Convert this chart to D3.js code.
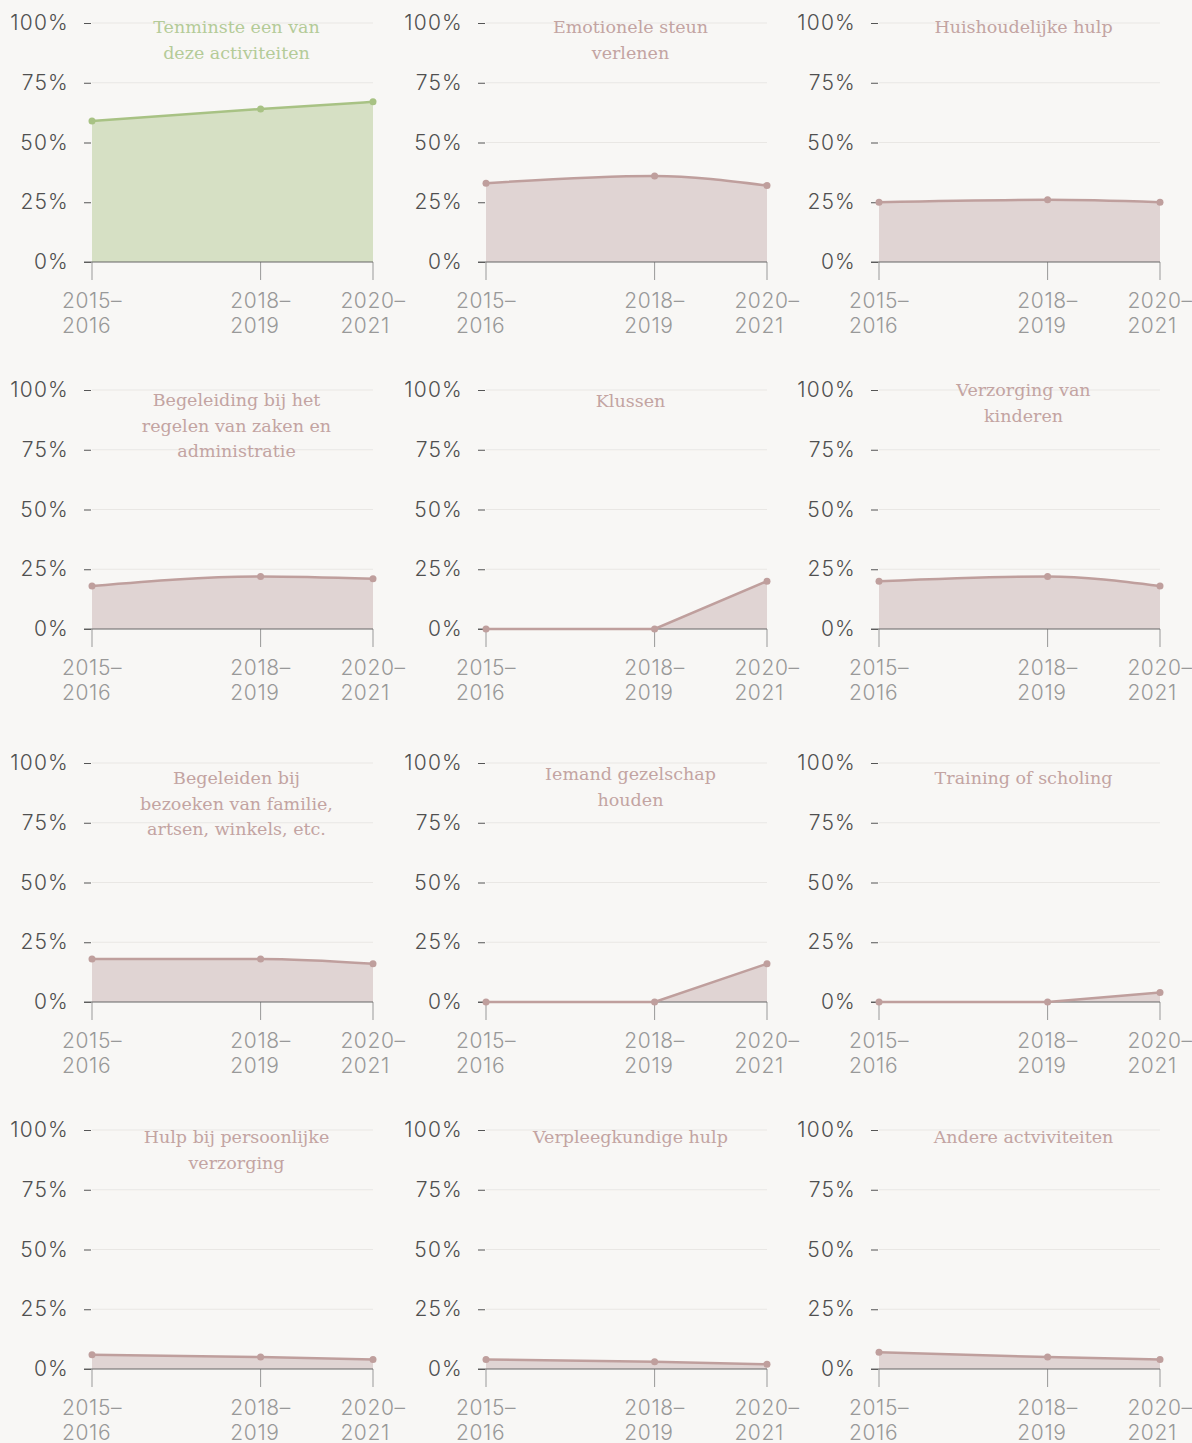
<!DOCTYPE html>
<html>
<head>
<meta charset="utf-8">
<script src="https://cdn.jsdelivr.net/npm/d3@7"></script>
<style>
  body { margin: 0; background: #f8f7f5; }
  svg { display: block; }
</style>
</head>
<body>
<div id="chart"></div>
<script>
// Periods on the x axis
const periodStart = [2015, 2018, 2020];
const periodLabels = [["2015–", "2016"], ["2018–", "2019"], ["2020–", "2021"]];
const yTicks = [0, 25, 50, 75, 100];

// Share of helpers per activity (%), one array per small multiple
const titles = [
  ["Tenminste een van", "deze activiteiten"],
  ["Emotionele steun", "verlenen"],
  ["Huishoudelijke hulp"],
  ["Begeleiding bij het", "regelen van zaken en", "administratie"],
  ["Klussen"],
  ["Verzorging van", "kinderen"],
  ["Begeleiden bij", "bezoeken van familie,", "artsen, winkels, etc."],
  ["Iemand gezelschap", "houden"],
  ["Training of scholing"],
  ["Hulp bij persoonlijke", "verzorging"],
  ["Verpleegkundige hulp"],
  ["Andere actviviteiten"]
];
const tenminste = [59, 64, 67];
const emotioneel = [33, 36, 32];
const huishoudelijk = [25, 26, 25];
const administratie = [18, 22, 21];
const klussen = [0, 0, 20];
const kinderen = [20, 22, 18];
const bezoeken = [18, 18, 16];
const gezelschap = [0, 0, 16];
const scholing = [0, 0, 4];
const persoonlijk = [6, 5, 4];
const verpleeg = [4, 3, 2];
const andere = [7, 5, 4];
const series = [tenminste, emotioneel, huishoudelijk, administratie, klussen, kinderen,
                bezoeken, gezelschap, scholing, persoonlijk, verpleeg, andere];

// layout
const W = 1192, H = 1443;
const colX = [92, 486, 879];
const plotW = 281;
const rowY = [23, 390, 763, 1130];
const plotH = 239;
const titleDy = [10, 10, 10, 16, 17, 6, 21, 17, 21, 13, 13, 13];

const svg = d3.select("#chart").append("svg")
  .attr("width", W)
  .attr("height", H);

const sansFont = "Inter, sans-serif";

series.forEach((vals, i) => {
  const col = i % 3, row = Math.floor(i / 3);
  const x0 = colX[col], y0 = rowY[row];
  const first = i === 0;
  const lineColor = first ? "#a8c284" : "#bf9f9d";
  const fillColor = first ? "#d6e0c4" : "#e0d4d3";
  const titleColor = first ? "#b4cb98" : "#c3a4a2";
  // series that start at zero (not measured earlier) are drawn straight
  const curve = vals.includes(0) ? d3.curveLinear : d3.curveMonotoneX;

  const g = svg.append("g").attr("transform", `translate(${x0},${y0})`);

  const x = d3.scaleLinear().domain([2015, 2020]).range([0, plotW]);
  const y = d3.scaleLinear().domain([0, 100]).range([plotH, 0]);

  // gridlines
  g.selectAll(".grid")
    .data(yTicks.filter(t => t > 0))
    .enter().append("line")
    .attr("x1", 0).attr("x2", plotW)
    .attr("y1", d => y(d)).attr("y2", d => y(d))
    .attr("stroke", "#e9e7e4")
    .attr("stroke-width", 1);

  // y axis
  const yAxis = g.append("g")
    .attr("transform", "translate(-1,0)")
    .call(d3.axisLeft(y).tickValues(yTicks).tickSize(7).tickPadding(15).tickFormat(d => d + "%"));
  yAxis.select(".domain").remove();
  yAxis.selectAll(".tick line").attr("stroke", "#555");
  yAxis.selectAll("text")
    .attr("fill", "#505050")
    .style("font-family", sansFont)
    .style("font-weight", 300)
    .style("font-size", "21px")
    .style("letter-spacing", "1.2px");

  // x axis ticks and labels
  const xt = g.append("g").attr("transform", `translate(0,${plotH})`);
  xt.selectAll("line")
    .data(periodStart)
    .enter().append("line")
    .attr("x1", d => x(d)).attr("x2", d => x(d))
    .attr("y1", 0).attr("y2", 18)
    .attr("stroke", "#999");

  // title
  const title = g.append("text")
    .attr("text-anchor", "middle")
    .attr("fill", titleColor)
    .style("font-family", "'DejaVu Serif', serif")
    .style("font-size", "17.5px");
  titles[i].forEach((t, k) => {
    title.append("tspan")
      .attr("x", plotW / 2 + 4)
      .attr("y", titleDy[i] + k * 25.5)
      .text(t);
  });

  const pts = periodStart.map((p, k) => ({ p, v: vals[k] }));

  g.append("path")
    .datum(pts)
    .attr("fill", fillColor)
    .attr("d", d3.area().curve(curve)
      .x(d => x(d.p)).y0(y(0)).y1(d => y(d.v)));

  // baseline
  g.append("line")
    .attr("x1", -8).attr("x2", plotW)
    .attr("y1", y(0)).attr("y2", y(0))
    .attr("stroke", "#666")
    .attr("stroke-width", 1);

  g.append("path")
    .datum(pts)
    .attr("fill", "none")
    .attr("stroke", lineColor)
    .attr("stroke-width", 2.5)
    .attr("d", d3.line().curve(curve)
      .x(d => x(d.p)).y(d => y(d.v)));

  g.selectAll(".dot")
    .data(pts)
    .enter().append("circle")
    .attr("cx", d => x(d.p))
    .attr("cy", d => y(d.v))
    .attr("r", 3.5)
    .attr("fill", lineColor);

  // x labels: block centred on tick, lines left aligned
  periodStart.forEach((p, k) => {
    const t = xt.append("text")
      .attr("fill", "#999")
      .style("font-family", sansFont)
      .style("font-weight", 300)
      .style("font-size", "21px")
      .style("letter-spacing", "0.6px");
    const l1 = t.append("tspan").attr("y", 46).text(periodLabels[k][0]);
    const w = l1.node().getComputedTextLength();
    const left = x(p) - w / 2;
    l1.attr("x", left);
    t.append("tspan").attr("x", left).attr("y", 71).text(periodLabels[k][1]);
  });
});
</script>
</body>
</html>
